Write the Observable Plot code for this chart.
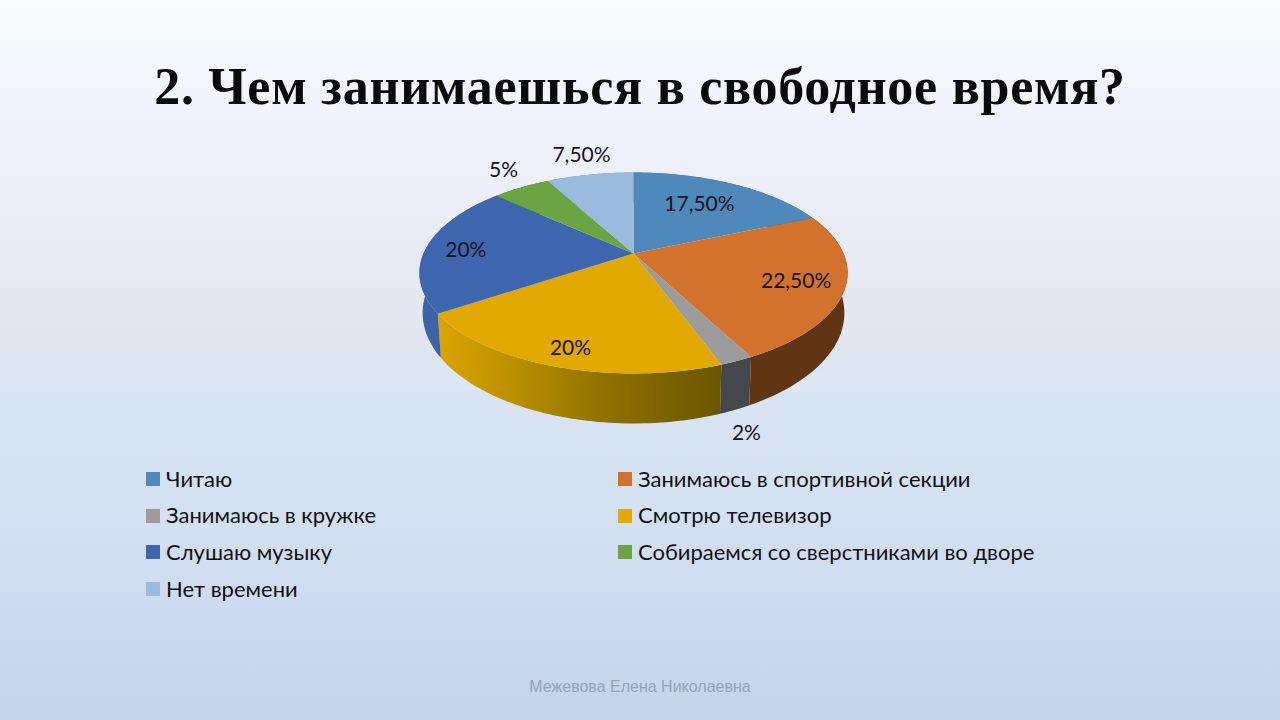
<!DOCTYPE html>
<html lang="ru">
<head>
<meta charset="utf-8">
<script src="https://cdn.jsdelivr.net/npm/d3@7"></script>
<script src="https://cdn.jsdelivr.net/npm/@observablehq/plot@0.6"></script>
<style>
  html, body { margin: 0; padding: 0; width: 1280px; height: 720px; overflow: hidden; }
  body {
    background: linear-gradient(180deg, #f8fcfe 0px, #f3f8fb 58px, #f5f7ff 62px, #ebedf7 200px, #e2e5ef 351px, #dce6f1 355px, #dde8f4 385px, #dfe9f6 388px, #d9e4f3 392px, #d3e1f1 510px, #cfdbf0 600px, #c4d4ea 720px);
    font-family: Lato, "Open Sans", sans-serif;
  }
  #title {
    height: 140px; box-sizing: border-box; padding-top: 54px; text-align: center;
    font: bold 52px/66px "Liberation Serif", serif; letter-spacing: 0.75px; color: #0b0b0b;
  }
  #chart { height: 310px; }
  #chart svg { display: block; background: transparent; }
  #legend {
    position: relative; height: 220px; margin-left: 146px; margin-top: 10px; width: 1000px;
    display: grid; grid-template-columns: 472px 1fr; grid-auto-rows: 36.6px;
    font-size: 22px; color: #111;
  }
  #legend .item { display: flex; align-items: center; height: 36.6px; white-space: nowrap; }
  #legend .sw { width: 14px; height: 14px; margin-right: 6px; flex: none; position: relative; top: 1px; }
  #footer {
    position: absolute; left: 0; width: 1280px; top: 678px; text-align: center;
    font: 16px/18px "Liberation Sans", sans-serif; color: #97a3b7;
  }
</style>
</head>
<body>
<div id="title">2. Чем занимаешься в свободное время?</div>
<div id="chart"></div>
<div id="legend"></div>
<div id="footer">Межевова Елена Николаевна</div>
<script>
const categories = ["Читаю", "Занимаюсь в спортивной секции", "Занимаюсь в кружке", "Смотрю телевизор", "Слушаю музыку", "Собираемся со сверстниками во дворе", "Нет времени"];
const shares = [17.5, 22.5, 2, 20, 20, 5, 7.5];
const valueLabels = ["17,50%", "22,50%", "2%", "20%", "20%", "5%", "7,50%"];
const topColors = ["#4f88bb", "#d2722d", "#9c9c9c", "#e2aa00", "#3e66ae", "#6aa443", "#9abbdd"];
const wallColors = ["#3a6286", "#5f3513", "#44484b", "url(#wallTv)", "#3b63a6", "#4c7730", "#6f8aa6"];

// label placement, as a fraction of the radius along each slice's mid-angle
const labelRadius = [0.63, 0.78, 1.077, 0.82, 0.81, 1.185, 1.237];
const labelLift = [-0.03, 0.01, 0.643, 0.06, 0.03, -0.07, -0.04];

// perspective of the tilted disc
const tilt = 0.194;
const project = (r, a) => {
  const u = r * Math.sin(a), v = -r * Math.cos(a), d = 1 - tilt * v;
  return [u / d, v / d];
};
const wallDepth = 0.393, bottomX = 0.985, bottomY = 1.1;

const total = d3.sum(shares);
let acc = 0;
const slices = categories.map((name, i) => {
  const a0 = acc / total * 2 * Math.PI;
  acc += shares[i];
  return {name, i, a0, a1: acc / total * 2 * Math.PI};
});

const rim = s => d3.range(0, 61).map(k => project(1, s.a0 + (s.a1 - s.a0) * k / 60));

const topRows = slices.flatMap(s => [[0, 0], ...rim(s), [0, 0]].map(([x, y]) => ({name: s.name, x, y})));
const wallRows = slices.flatMap(s => {
  const upper = rim(s);
  const lower = upper.map(([x, y]) => [x * bottomX, y * bottomY + wallDepth]).reverse();
  return [...upper, ...lower].map(([x, y]) => ({name: s.name, x, y, wall: wallColors[s.i]}));
});
const labelRows = slices.map(s => {
  const [x, y] = project(labelRadius[s.i], (s.a0 + s.a1) / 2);
  return {x, y: y + labelLift[s.i], label: valueLabels[s.i]};
});

const defs = () => {
  const svgNS = "http://www.w3.org/2000/svg";
  const d = document.createElementNS(svgNS, "defs");
  const g = document.createElementNS(svgNS, "linearGradient");
  g.setAttribute("id", "wallTv");
  [[0, "#dba500"], [0.3, "#b68d00"], [0.6, "#8d7000"], [1, "#6a5500"]].forEach(([o, c]) => {
    const st = document.createElementNS(svgNS, "stop");
    st.setAttribute("offset", o);
    st.setAttribute("stop-color", c);
    g.appendChild(st);
  });
  d.appendChild(g);
  return d;
};

const plot = Plot.plot({
  width: 1280,
  height: 310,
  margin: 0,
  style: {background: "transparent", overflow: "visible"},
  x: {domain: [-1, 1], range: [423, 843], axis: null},
  y: {domain: [-1, 1], range: [16.3, 209.7], axis: null},
  color: {domain: categories, range: topColors},
  marks: [
    defs,
    Plot.line(wallRows, {x: "x", y: "y", z: "name", fill: {value: "wall", scale: null}, stroke: "none"}),
    Plot.line(topRows, {x: "x", y: "y", z: "name", fill: "name", stroke: "none"}),
    Plot.text(labelRows, {x: "x", y: "y", text: "label", fontSize: 21, fill: "#14141c", fontFamily: "Lato, 'Open Sans', sans-serif"})
  ]
});
document.getElementById("chart").appendChild(plot);

const legend = d3.select("#legend");
const item = legend.selectAll(".item").data(categories).join("div").attr("class", "item");
item.append("span").attr("class", "sw").style("background", (d, i) => topColors[i]);
item.append("span").text(d => d);
</script>
</body>
</html>
